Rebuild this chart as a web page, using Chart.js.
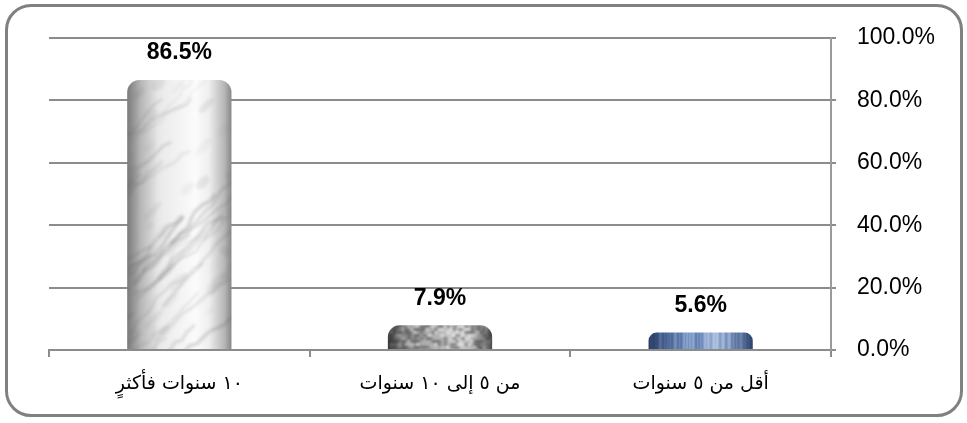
<!DOCTYPE html>
<html>
<head>
<meta charset="utf-8">
<script src="https://cdn.jsdelivr.net/npm/chart.js@4.4.1/dist/chart.umd.min.js"></script>
<style>
html,body{margin:0;padding:0;background:#fff;}
#wrap{position:relative;width:967px;height:423px;}
#frame{position:absolute;left:5px;top:4px;width:952px;height:407px;border:3px solid #808080;border-radius:26px;pointer-events:none;}
canvas{position:absolute;left:0;top:0;}
</style>
</head>
<body>
<div id="wrap">
<canvas id="c" width="967" height="423"></canvas>
<div id="frame"></div>
</div>
<script>
const categories = ['١٠ سنوات فأكثرٍ', 'من ٥ إلى ١٠ سنوات', 'أقل من ٥ سنوات'];
const values = [86.5, 7.9, 5.6];
const valueLabels = ['86.5%', '7.9%', '5.6%'];
const yTicks = [0, 20, 40, 60, 80, 100];

function wave(a, b) { const s = Math.sin(a * 12.9898 + b * 78.233) * 43758.5453; return s - Math.floor(s); }

function edgeShade(g, w, h, dark) {
  const gr = g.createLinearGradient(0, 0, w, 0);
  gr.addColorStop(0, 'rgba(' + dark + ',0.75)'); gr.addColorStop(0.14, 'rgba(' + dark + ',0.25)');
  gr.addColorStop(0.3, 'rgba(' + dark + ',0)'); gr.addColorStop(0.78, 'rgba(' + dark + ',0)');
  gr.addColorStop(0.92, 'rgba(' + dark + ',0.3)'); gr.addColorStop(1, 'rgba(' + dark + ',0.7)');
  g.fillStyle = gr; g.fillRect(0, 0, w, h);
}
function drawMarble(g, w, h) {
  const gr = g.createLinearGradient(0, 0, w, 0);
  gr.addColorStop(0, '#c8c8c8'); gr.addColorStop(0.35, '#ececec'); gr.addColorStop(0.65, '#fbfbfb'); gr.addColorStop(1, '#d8d8d8');
  g.fillStyle = gr; g.fillRect(0, 0, w, h);
  g.filter = 'blur(1.5px)';
  for (let k = 0; k < 40; k++) {
    let x = wave(k, 1) * w * 1.6 - w * 0.3, y = wave(k, 2) * h;
    g.beginPath(); g.moveTo(x, y);
    for (let s = 0; s < 14; s++) {
      x -= 3 + wave(k, s + 10) * 6; y += 2 + wave(k, s + 30) * 7;
      g.lineTo(x, y);
    }
    g.strokeStyle = 'rgba(90,90,90,' + (0.08 + 0.18 * wave(k, 5)) + ')';
    g.lineWidth = 0.8 + 2.5 * wave(k, 7);
    g.stroke();
  }
  for (let k = 0; k < 30; k++) {
    const x = wave(k, 50) * w, y = wave(k, 51) * h;
    g.fillStyle = 'rgba(120,120,120,' + (0.05 + 0.1 * wave(k, 52)) + ')';
    g.beginPath(); g.ellipse(x, y, 4 + 10 * wave(k, 53), 2 + 4 * wave(k, 54), -0.8, 0, Math.PI * 2); g.fill();
  }
  g.filter = 'none';
  edgeShade(g, w, h, '90,90,90');
}
function drawGranite(g, w, h) {
  const gr = g.createLinearGradient(0, 0, w, 0);
  gr.addColorStop(0, '#9a9a9a'); gr.addColorStop(0.5, '#b4b4b4'); gr.addColorStop(0.62, '#d0d0d0'); gr.addColorStop(1, '#9a9a9a');
  g.fillStyle = gr; g.fillRect(0, 0, w, h);
  g.filter = 'blur(1px)';
  for (let x = 0; x < w; x += 3) for (let y = 0; y < h; y += 3) {
    const r = wave(x, y);
    if (r < 0.35) { g.fillStyle = 'rgba(40,40,40,0.35)'; g.fillRect(x, y, 4, 3); }
    else if (r > 0.82) { g.fillStyle = 'rgba(255,255,255,0.5)'; g.fillRect(x, y, 3, 3); }
  }
  g.filter = 'none';
  edgeShade(g, w, h, '30,30,30');
}
function drawBlue(g, w, h) {
  const gr = g.createLinearGradient(0, 0, w, 0);
  gr.addColorStop(0, '#5070a4'); gr.addColorStop(0.5, '#7b98c8'); gr.addColorStop(0.62, '#a2b8dc'); gr.addColorStop(1, '#5a78aa');
  g.fillStyle = gr; g.fillRect(0, 0, w, h);
  for (let x = 0; x < w; x += 3) {
    const r = wave(x, 9);
    g.fillStyle = r < 0.5 ? 'rgba(20,40,80,' + (0.1 + 0.2 * r) + ')' : 'rgba(255,255,255,' + (0.05 + 0.15 * r) + ')';
    g.fillRect(x, 0, 2, h);
  }
  edgeShade(g, w, h, '20,35,70');
}
const painters = [drawMarble, drawGranite, drawBlue];
const cache = {};
function barFill(ctx) {
  const chart = ctx.chart; const area = chart.chartArea; const xs = chart.scales.x;
  if (!area || !xs) return '#ccc';
  const i = ctx.dataIndex;
  const cw = xs.width / categories.length; const bw = Math.ceil(cw * 0.4) + 2;
  const cx = xs.getPixelForValue(i); const left = cx - bw / 2;
  const h = Math.ceil(area.bottom - area.top) + 2;
  const key = i + '_' + bw + '_' + h;
  if (!cache[key]) {
    const off = document.createElement('canvas'); off.width = bw; off.height = h;
    painters[i % 3](off.getContext('2d'), bw, h);
    cache[key] = off;
  }
  const pat = chart.ctx.createPattern(cache[key], 'no-repeat');
  pat.setTransform(new DOMMatrix([1, 0, 0, 1, left, area.top - 1]));
  return pat;
}

const labelPlugin = {
  id: 'valueLabels',
  afterDatasetsDraw(chart) {
    const c = chart.ctx; const meta = chart.getDatasetMeta(0);
    c.save();
    c.font = 'bold 23px "Liberation Sans", Arial, sans-serif';
    c.fillStyle = '#000'; c.textAlign = 'center'; c.textBaseline = 'middle';
    meta.data.forEach((el, i) => { c.fillText(valueLabels[i], el.x, el.y - 27); });
    c.restore();
  }
};

new Chart(document.getElementById('c'), {
  type: 'bar',
  data: {
    labels: categories,
    datasets: [{
      data: values,
      backgroundColor: barFill,
      borderWidth: 0,
      borderRadius: { topLeft: 12, topRight: 12, bottomLeft: 0, bottomRight: 0 },
      borderSkipped: 'start',
      categoryPercentage: 1.0,
      barPercentage: 0.4
    }]
  },
  options: {
    responsive: false,
    animation: false,
    events: [],
    layout: { padding: { left: 49, top: 38, right: 0, bottom: 0 } },
    plugins: { legend: { display: false }, tooltip: { enabled: false } },
    scales: {
      x: {
        offset: true,
        grid: { display: true, drawOnChartArea: false, drawTicks: true, tickLength: 7, color: '#8c8c8c', lineWidth: 2, offset: true },
        border: { display: true, color: '#8c8c8c', width: 2 },
        ticks: { color: '#000', font: { family: '"DejaVu Sans", sans-serif', size: 19 }, padding: 16, maxRotation: 0 },
        afterFit(s) { s.height = 73; }
      },
      y: {
        position: 'right',
        min: 0, max: 100,
        afterBuildTicks(s) { s.ticks = yTicks.map(v => ({ value: v })); },
        grid: { color: '#8c8c8c', lineWidth: 2, tickLength: 5, drawTicks: true },
        border: { display: true, color: '#9a9a9a', width: 2 },
        ticks: { color: '#000', font: { family: '"Liberation Sans", Arial, sans-serif', size: 23 }, padding: 21, callback: v => v.toFixed(1) + '%' },
        afterFit(s) { s.width = 136; }
      }
    }
  },
  plugins: [labelPlugin]
});
</script>
</body>
</html>
